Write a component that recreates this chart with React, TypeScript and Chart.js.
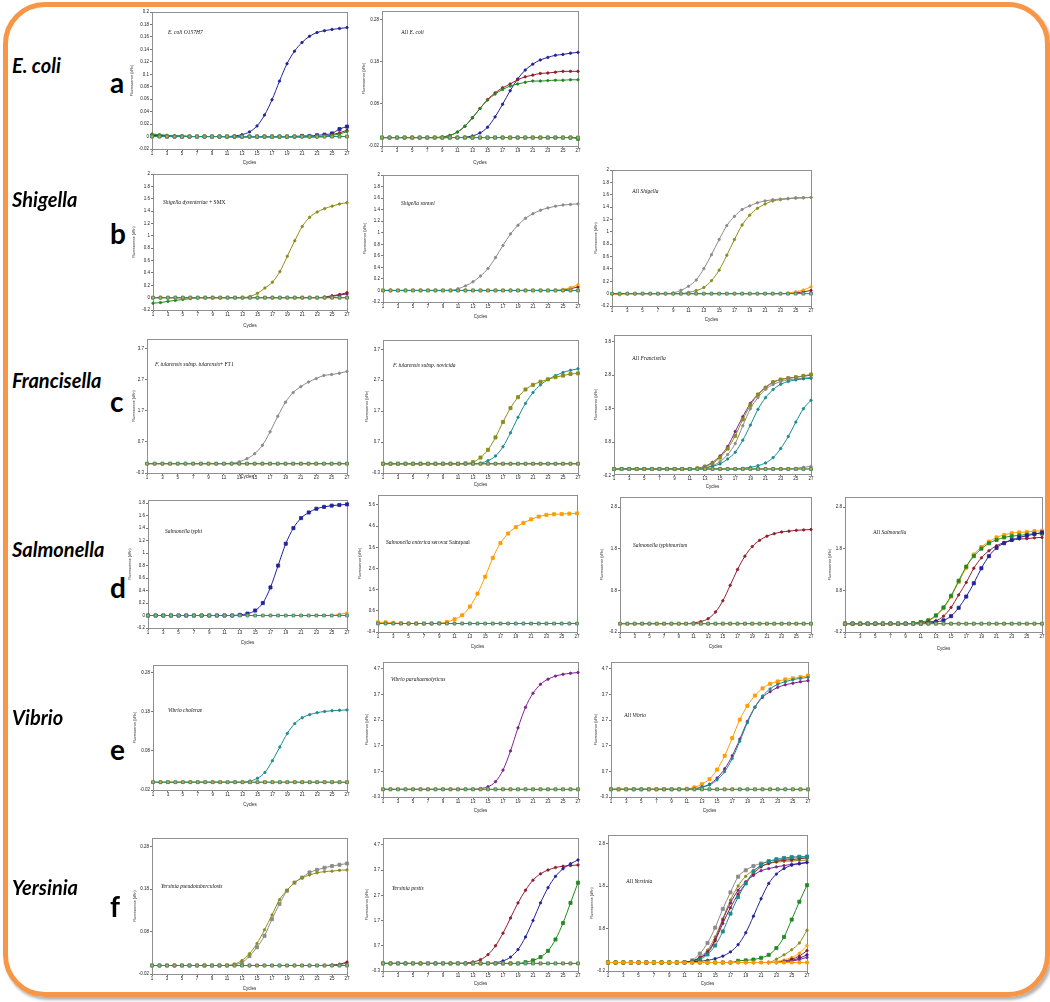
import React, { useEffect, useRef } from "react";
import { Chart, registerables } from "chart.js";
Chart.register(...registerables);

// ---------- data ----------
const cycles = [1, 2, 3, 4, 5, 6, 7, 8, 9, 10, 11, 12, 13, 14, 15, 16, 17, 18, 19, 20, 21, 22, 23, 24, 25, 26, 27];
const xTickValues = [1, 3, 5, 7, 9, 11, 13, 15, 17, 19, 21, 23, 25, 27];
const flat = [0, 0, 0, 0, 0, 0, 0, 0, 0, 0, 0, 0, 0, 0, 0, 0, 0, 0, 0, 0, 0, 0, 0, 0, 0, 0, 0];

// y tick labels
const ticksA1 = [-0.02, 0, 0.02, 0.04, 0.06, 0.08, 0.1, 0.12, 0.14, 0.16, 0.18, 0.2];
const ticksSmallWide = [-0.02, 0.08, 0.18, 0.28];
const ticksShig = [-0.2, 0, 0.2, 0.4, 0.6, 0.8, 1, 1.2, 1.4, 1.6, 1.8, 2];
const ticksFran = [-0.3, 0.7, 1.7, 2.7, 3.7];
const ticksFranAll = [-0.2, 0.8, 1.8, 2.8, 3.8];
const ticksTyphi = [-0.2, 0, 0.2, 0.4, 0.6, 0.8, 1, 1.2, 1.4, 1.6, 1.8];
const ticksSaint = [-0.4, 0.6, 1.6, 2.6, 3.6, 4.6, 5.6];
const ticksSalm = [-0.2, 0.8, 1.8, 2.8];
const ticksVib = [-0.3, 0.7, 1.7, 2.7, 3.7, 4.7];
const ticksYers = [-0.2, 0.8, 1.8, 2.8];

// a: E. coli
const a1Blue = [0.002, 0.002, 0.001, 0.001, 0.001, 0, 0, 0, 0, 0, 0, 0.001, 0.003, 0.0075, 0.017, 0.0345, 0.059, 0.089, 0.117, 0.137, 0.151, 0.161, 0.167, 0.17, 0.172, 0.1735, 0.175];
const a1Navy = [0.001, 0.001, 0, 0, 0, 0, 0, 0, 0, 0, 0, 0, 0, 0, 0, 0, 0, 0, 0, 0, 0.001, 0.001, 0.002, 0.003, 0.005, 0.012, 0.016];
const a1Red = [0, 0, 0, 0, 0, 0, 0, 0, 0, 0, 0, 0, 0, 0, 0, 0, 0, 0, 0, 0, 0, 0, 0, 0, 0.003, 0.006, 0.01];
const a1Green = [0.004, 0.003, 0.002, 0.001, 0.001, 0, 0, 0, 0, 0, -0.001, -0.001, -0.001, -0.001, -0.001, -0.001, -0.001, -0.001, -0.001, -0.001, -0.001, -0.001, -0.001, 0, 0.002, 0.004, 0.008];
const a2Blue = [0, 0, 0, 0, 0, 0, 0, 0, 0, 0, 0, 0.001, 0.004, 0.011, 0.0245, 0.049, 0.079, 0.111, 0.139, 0.16, 0.174, 0.184, 0.19, 0.195, 0.197, 0.2, 0.202];
const a2Red = [0, 0, 0, 0, 0, 0, 0, 0, 0.0015, 0.005, 0.013, 0.027, 0.047, 0.069, 0.09, 0.106, 0.118, 0.127, 0.137, 0.144, 0.148, 0.152, 0.153, 0.155, 0.157, 0.157, 0.157];
const a2Green = [0, 0, 0, 0, 0, 0, 0, 0, 0.0015, 0.005, 0.013, 0.027, 0.047, 0.069, 0.089, 0.103, 0.114, 0.122, 0.127, 0.131, 0.134, 0.134, 0.135, 0.136, 0.136, 0.137, 0.137];
const a2GreenBase = [0, 0, 0, 0, 0, 0, 0, 0, 0, 0, 0, 0, 0, 0, 0, 0, 0, 0, 0, 0, 0, 0, 0, 0, 0, 0, -0.003];

// b: Shigella
const b1Olive = [0, 0, 0, 0, 0, 0, 0, 0, 0, 0, 0, 0, 0, 0.02, 0.07, 0.156, 0.25, 0.42, 0.67, 0.92, 1.15, 1.3, 1.385, 1.44, 1.48, 1.515, 1.535];
const b1Green = [-0.09, -0.08, -0.06, -0.045, -0.03, -0.015, 0, 0, 0, 0, 0, 0, 0, 0, 0, 0, 0, 0, 0, 0, 0, 0, 0, 0, 0, 0, 0];
const b1Red = [0, 0, 0, 0, 0, 0, 0, 0, 0, 0, 0, 0, 0, 0, 0, 0, 0, 0, 0, 0, 0, 0, 0, 0.01, 0.03, 0.05, 0.08];
const b1Purple = [0, 0, 0, 0, 0, 0, 0, 0, 0, 0, 0, 0, 0, 0, 0, 0, 0, 0, 0, 0, 0, 0, 0, 0, 0.02, 0.04, 0.06];
const b2Gray = [0, 0, 0, 0, 0, 0, 0, 0, 0, 0, 0.03, 0.08, 0.15, 0.25, 0.38, 0.57, 0.78, 0.98, 1.13, 1.25, 1.33, 1.39, 1.43, 1.46, 1.48, 1.49, 1.5];
const b2Orange = [0, 0, 0, 0, 0, 0, 0, 0, 0, 0, 0, 0, 0, 0, 0, 0, 0, 0, 0, 0, 0, 0, 0, 0, 0.02, 0.05, 0.1];
const b2Red = [0, 0, 0, 0, 0, 0, 0, 0, 0, 0, 0, 0, 0, 0, 0, 0, 0, 0, 0, 0, 0, 0, 0, 0, 0.01, 0.03, 0.06];
const b3Gray = [0, 0, 0, 0, 0, 0, 0, 0, 0.01, 0.054, 0.12, 0.22, 0.405, 0.63, 0.875, 1.1, 1.25, 1.36, 1.42, 1.47, 1.5, 1.52, 1.53, 1.54, 1.55, 1.553, 1.556];
const b3Olive = [0, 0, 0, 0, 0, 0, 0, 0, 0, 0, 0.02, 0.05, 0.1, 0.21, 0.38, 0.62, 0.875, 1.11, 1.27, 1.38, 1.45, 1.5, 1.52, 1.535, 1.545, 1.55, 1.556];
const b3Orange = [0, -0.02, 0, 0, 0, 0, 0, 0, 0, 0, 0, 0, 0, 0, 0, 0, 0, 0, 0, 0, 0, 0, 0, 0.01, 0.03, 0.06, 0.11];
const b3Red = [0, 0, 0, 0, 0, 0, 0, 0, 0, 0, 0, 0, 0, 0, 0, 0, 0, 0, 0, 0, 0, 0, 0, 0, 0.01, 0.03, 0.05];

// c: Francisella
const c1Gray = [0, 0, 0, 0, 0, 0, 0, 0, 0, 0, 0, 0.01, 0.06, 0.16, 0.32, 0.59, 1.02, 1.52, 1.97, 2.28, 2.47, 2.62, 2.73, 2.83, 2.86, 2.9, 2.96];
const c2Olive = [0, 0, 0, 0, 0, 0, 0, 0, 0, 0, 0, 0.01, 0.05, 0.2, 0.45, 0.85, 1.35, 1.8, 2.15, 2.4, 2.55, 2.65, 2.73, 2.8, 2.85, 2.9, 2.92];
const c2Teal = [0, 0, 0, 0, 0, 0, 0, 0, 0, 0, 0, 0, 0, 0.02, 0.1, 0.25, 0.55, 1.0, 1.5, 1.95, 2.3, 2.55, 2.72, 2.85, 2.95, 3.02, 3.07];
const c3Purple = [0, 0, 0, 0, 0, 0, 0, 0, 0, 0, 0, 0.02, 0.08, 0.2, 0.39, 0.67, 1.12, 1.56, 1.96, 2.23, 2.44, 2.59, 2.67, 2.71, 2.74, 2.77, 2.8];
const c3Olive = [0, 0, 0, 0, 0, 0, 0, 0, 0, 0, 0, 0.02, 0.07, 0.17, 0.34, 0.61, 0.99, 1.48, 1.9, 2.22, 2.42, 2.59, 2.67, 2.71, 2.74, 2.78, 2.82];
const c3Gray = [0, 0, 0, 0, 0, 0, 0, 0, 0, 0, 0, 0, 0.04, 0.1, 0.22, 0.43, 0.76, 1.29, 1.8, 2.13, 2.38, 2.52, 2.61, 2.66, 2.69, 2.71, 2.73];
const c3Teal1 = [0, 0, 0, 0, 0, 0, 0, 0, 0, 0, 0, 0, 0.03, 0.08, 0.15, 0.3, 0.5, 0.86, 1.31, 1.78, 2.13, 2.37, 2.53, 2.61, 2.66, 2.69, 2.71];
const c3Teal2 = [0, 0, 0, 0, 0, 0, 0, 0, 0, 0, 0, 0, 0, 0, 0, 0, 0, 0.02, 0.05, 0.1, 0.18, 0.34, 0.61, 0.97, 1.4, 1.8, 2.05];
const c3GrayEnd = [0, 0, 0, 0, 0, 0, 0, 0, 0, 0, 0, 0, 0, 0, 0, 0, 0, 0, 0, 0, 0, 0, 0, 0, 0.02, 0.05, 0.08];

// d: Salmonella
const d1Blue = [0, 0, 0, 0, 0, 0, 0, 0, 0, 0, 0, 0, 0.01, 0.03, 0.08, 0.2, 0.45, 0.8, 1.15, 1.4, 1.56, 1.65, 1.71, 1.74, 1.76, 1.77, 1.78];
const d1Orange = [0, 0, 0, 0, 0, 0, 0, 0, 0, 0, 0, 0, 0, 0, 0, 0, 0, 0, 0, 0, 0, 0, 0, 0, 0, 0.02, 0.04];
const d2Orange = [0.057, 0.057, 0.03, 0.01, 0, 0, 0, 0, 0.02, 0.07, 0.2, 0.39, 0.8, 1.41, 2.21, 3.1, 3.8, 4.25, 4.55, 4.75, 4.92, 5.05, 5.13, 5.16, 5.17, 5.19, 5.2];
const d3Red = [0, 0, 0, 0, 0, 0, 0, 0, 0, 0, 0.02, 0.05, 0.12, 0.28, 0.55, 0.92, 1.3, 1.62, 1.85, 2.0, 2.1, 2.16, 2.2, 2.22, 2.24, 2.25, 2.26];
const d4Green = [0, 0, 0, 0, 0, 0, 0, 0, 0, 0.01, 0.04, 0.08, 0.2, 0.39, 0.67, 1.03, 1.37, 1.62, 1.8, 1.93, 2.01, 2.07, 2.1, 2.12, 2.14, 2.16, 2.16];
const d4Orange = [0, 0, 0, 0, 0, 0, 0, 0, 0, 0.01, 0.03, 0.07, 0.18, 0.37, 0.65, 1.0, 1.34, 1.66, 1.84, 1.97, 2.07, 2.13, 2.17, 2.19, 2.2, 2.22, 2.23];
const d4Red = [0, 0, 0, 0, 0, 0, 0, 0, 0, 0, 0.01, 0.04, 0.07, 0.18, 0.39, 0.69, 0.99, 1.33, 1.58, 1.75, 1.87, 1.95, 2.0, 2.03, 2.04, 2.06, 2.07];
const d4Blue = [0, 0, 0, 0, 0, 0, 0, 0, 0, 0, 0, 0.01, 0.04, 0.08, 0.18, 0.38, 0.65, 0.97, 1.33, 1.62, 1.82, 1.93, 2.01, 2.07, 2.11, 2.15, 2.19];

// e: Vibrio
const e1Teal = [0, 0, 0, 0, 0, 0, 0, 0, 0, 0, 0, 0, 0, 0.003, 0.01, 0.025, 0.055, 0.09, 0.125, 0.15, 0.165, 0.173, 0.178, 0.181, 0.183, 0.184, 0.185];
const e2Purple = [0, 0, 0, 0, 0, 0, 0, 0, 0, 0, 0, 0, 0, 0.03, 0.1, 0.3, 0.75, 1.5, 2.4, 3.2, 3.75, 4.1, 4.3, 4.42, 4.49, 4.53, 4.56];
const e3Orange = [0, 0, 0, 0, 0, 0, 0, 0, 0, 0, 0.02, 0.075, 0.2, 0.4, 0.77, 1.31, 2.0, 2.72, 3.26, 3.66, 3.94, 4.12, 4.21, 4.29, 4.33, 4.38, 4.44];
const e3Purple = [0, 0, 0, 0, 0, 0, 0, 0, 0, 0, 0, 0.02, 0.09, 0.2, 0.44, 0.8, 1.31, 1.96, 2.65, 3.21, 3.59, 3.81, 3.98, 4.08, 4.14, 4.2, 4.24];
const e3Teal = [0, 0, 0, 0, 0, 0, 0, 0, 0, 0, 0, 0.02, 0.075, 0.17, 0.37, 0.69, 1.2, 1.88, 2.6, 3.2, 3.64, 3.92, 4.1, 4.2, 4.28, 4.33, 4.37];

// f: Yersinia
const f1Gray = [0, 0, 0, 0, 0, 0, 0, 0, 0, 0, 0, 0.002, 0.007, 0.022, 0.043, 0.07, 0.109, 0.145, 0.176, 0.195, 0.207, 0.219, 0.225, 0.23, 0.234, 0.237, 0.24];
const f1Olive = [0, 0, 0, 0, 0, 0, 0, 0, 0, 0, 0, 0.003, 0.012, 0.028, 0.052, 0.084, 0.119, 0.155, 0.177, 0.195, 0.206, 0.213, 0.218, 0.221, 0.222, 0.224, 0.225];
const f1Red = [0, 0, 0, 0, 0, 0, 0, 0, 0, 0, 0, 0, 0, 0, 0, 0, 0, 0, 0, 0, 0, 0, 0, 0, 0.001, 0.003, 0.008];
const f1Teal = [0, 0, 0, 0, 0, 0, 0, 0, 0, 0, 0, 0, 0, 0, 0, 0, 0, 0, 0, 0, 0, 0, 0, 0, 0.001, 0.002, 0.006];
const f2Red = [0, 0, 0, 0, 0, 0, 0, 0, 0, 0, 0, 0.02, 0.06, 0.15, 0.35, 0.7, 1.2, 1.8, 2.4, 2.9, 3.3, 3.55, 3.7, 3.8, 3.85, 3.88, 3.9];
const f2Blue = [0, 0, 0, 0, 0, 0, 0, 0, 0, 0, 0, 0, 0, 0, 0, 0.03, 0.1, 0.25, 0.55, 1.05, 1.7, 2.4, 3.0, 3.45, 3.75, 3.95, 4.1];
const f2Green = [0, 0, 0, 0, 0, 0, 0, 0, 0, 0, 0, 0, 0, 0, 0, 0, 0, 0, 0, 0.05, 0.12, 0.25, 0.5, 0.95, 1.6, 2.4, 3.2];
const f3Gray = [0, 0, 0, 0, 0, 0, 0, 0, 0, 0, 0.01, 0.05, 0.21, 0.46, 0.82, 1.26, 1.65, 2.02, 2.17, 2.27, 2.33, 2.38, 2.41, 2.43, 2.46, 2.47, 2.49];
const f3Olive = [0, 0, 0, 0, 0, 0, 0, 0, 0, 0, 0, 0.03, 0.13, 0.29, 0.6, 1.03, 1.47, 1.8, 2.03, 2.17, 2.27, 2.33, 2.36, 2.38, 2.39, 2.4, 2.41];
const f3Purple = [0, 0, 0, 0, 0, 0, 0, 0, 0, 0, 0, 0.03, 0.11, 0.25, 0.54, 1.0, 1.4, 1.7, 1.9, 2.05, 2.16, 2.21, 2.25, 2.28, 2.31, 2.32, 2.35];
const f3Red = [0, 0, 0, 0, 0, 0, 0, 0, 0, 0, 0, 0.03, 0.11, 0.22, 0.51, 0.92, 1.29, 1.61, 1.86, 2.09, 2.25, 2.33, 2.38, 2.41, 2.42, 2.44, 2.46];
const f3Teal = [0, 0, 0, 0, 0, 0, 0, 0, 0, 0, 0, 0.02, 0.07, 0.19, 0.4, 0.73, 1.15, 1.54, 1.86, 2.13, 2.3, 2.38, 2.43, 2.46, 2.48, 2.49, 2.49];
const f3Blue = [0, 0, 0, 0, 0, 0, 0, 0, 0, 0, 0.01, 0.02, 0.03, 0.05, 0.09, 0.15, 0.25, 0.42, 0.7, 1.09, 1.5, 1.86, 2.08, 2.21, 2.29, 2.33, 2.36];
const f3Green = [0, 0, 0, 0, 0, 0, 0, 0, 0, 0, 0, 0, 0, 0, 0, 0, 0, 0.04, 0.05, 0.07, 0.11, 0.18, 0.34, 0.6, 1.01, 1.43, 1.82];
const f3OliveLate = [0, 0, 0, 0, 0, 0, 0, 0, 0, 0, 0, 0, 0, 0, 0, 0, 0, 0, 0, 0, 0, 0, 0.08, 0.18, 0.3, 0.46, 0.76];
const f3OrangeLate = [0, 0, 0, 0, 0, 0, 0, 0, 0, 0, 0, 0, 0, 0, 0, 0, 0, 0, 0, 0, 0, 0, 0.02, 0.06, 0.12, 0.22, 0.4];
const f3RedLate = [0, 0, 0, 0, 0, 0, 0, 0, 0, 0, 0, 0, 0, 0, 0, 0, 0, 0, 0, 0, 0, 0, 0, 0.03, 0.08, 0.15, 0.28];
const f3BlueLate = [0, 0, 0, 0, 0, 0, 0, 0, 0, 0, 0, 0, 0, 0, 0, 0, 0, 0, 0, 0, 0, 0, 0, 0.02, 0.05, 0.1, 0.18];
const f3PurpleLate = [0, 0, 0, 0, 0, 0, 0, 0, 0, 0, 0, 0, 0, 0, 0, 0, 0, 0, 0, 0, 0, 0, 0, 0, 0.03, 0.07, 0.12];

// ---------- styles ----------
const COL = {
  blue: "#22229a",
  red: "#921c2c",
  green: "#1f8a1f",
  orange: "#ff9c00",
  teal: "#1b8c8c",
  olive: "#8c8c18",
  gray: "#8a8a8a",
  purple: "#7c2290",
};

type Ser = { data: number[]; color: string; shape: string; r: number; fill?: string };
const dot = (data: number[], color: string): Ser => ({ data, color, shape: "circle", r: 1.2 });
const sq = (data: number[], color: string): Ser => ({ data, color, shape: "rect", r: 2.2 });
const baseTeal = (): Ser => ({ data: flat, color: COL.teal, shape: "rect", r: 2, fill: "#f2a320" });
const baseOrange = (): Ser => ({ data: flat, color: COL.orange, shape: "rect", r: 2 });

type PanelDef = {
  box: [number, number, number, number];
  yMin: number;
  yMax: number;
  yTicks: number[];
  wy: number;
  hx: number;
  series: Ser[];
};

const panels: PanelDef[] = [
  // row a
  { box: [152, 12, 347, 149], yMin: -0.02, yMax: 0.2, yTicks: ticksA1, wy: 22, hx: 16,
    series: [baseTeal(), baseOrange(), dot(a1Green, COL.green), dot(a1Red, COL.red), sq(a1Navy, COL.blue), dot(a1Blue, COL.blue)] },
  { box: [382, 11, 578, 146], yMin: -0.02, yMax: 0.3, yTicks: ticksSmallWide, wy: 20, hx: 19,
    series: [baseTeal(), baseOrange(), sq(a2GreenBase, COL.green), dot(a2Green, COL.green), dot(a2Red, COL.red), dot(a2Blue, COL.blue)] },
  // row b
  { box: [153, 174, 347, 310], yMin: -0.2, yMax: 2, yTicks: ticksShig, wy: 21, hx: 18,
    series: [baseTeal(), baseOrange(), dot(b1Green, COL.green), dot(b1Red, COL.red), dot(b1Purple, COL.purple), dot(b1Olive, COL.olive)] },
  { box: [383, 175, 578, 302], yMin: -0.2, yMax: 2, yTicks: ticksShig, wy: 20, hx: 17,
    series: [baseTeal(), baseOrange(), dot(b2Orange, COL.orange), dot(b2Red, COL.red), dot(b2Gray, COL.gray)] },
  { box: [612, 170, 811, 306], yMin: -0.2, yMax: 2, yTicks: ticksShig, wy: 18, hx: 16,
    series: [baseTeal(), dot(b3Orange, COL.orange), dot(b3Red, COL.red), dot(b3Gray, COL.gray), dot(b3Olive, COL.olive)] },
  // row c
  { box: [147, 339, 347, 473], yMin: -0.3, yMax: 4.0, yTicks: ticksFran, wy: 15, hx: 6,
    series: [baseTeal(), baseOrange(), dot(flat, COL.red), dot(c1Gray, COL.gray)] },
  { box: [383, 340, 578, 473], yMin: -0.3, yMax: 4.0, yTicks: ticksFran, wy: 18, hx: 14,
    series: [baseTeal(), baseOrange(), dot(flat, COL.red), sq(c2Olive, COL.olive), dot(c2Teal, COL.teal)] },
  { box: [614, 335, 811, 474], yMin: -0.15, yMax: 4.0, yTicks: ticksFranAll, wy: 20, hx: 15,
    series: [baseTeal(), baseOrange(), dot(c3GrayEnd, COL.gray), dot(c3Teal2, COL.teal), dot(c3Teal1, COL.teal), dot(c3Gray, COL.gray), sq(c3Olive, COL.olive), dot(c3Purple, COL.purple)] },
  // row d
  { box: [148, 500, 347, 628], yMin: -0.2, yMax: 1.85, yTicks: ticksTyphi, wy: 20, hx: 17,
    series: [baseTeal(), dot(d1Orange, COL.orange), sq(d1Blue, COL.blue)] },
  { box: [378, 495, 577, 632], yMin: -0.4, yMax: 6.07, yTicks: ticksSaint, wy: 20, hx: 17,
    series: [baseTeal(), dot(flat, COL.red), sq(d2Orange, COL.orange)] },
  { box: [620, 497, 811, 632], yMin: -0.2, yMax: 3.04, yTicks: ticksSalm, wy: 20, hx: 17,
    series: [baseTeal(), baseOrange(), dot(d3Red, COL.red)] },
  { box: [845, 497, 1042, 632], yMin: -0.2, yMax: 3.04, yTicks: ticksSalm, wy: 17, hx: 19,
    series: [baseTeal(), baseOrange(), sq(d4Blue, COL.blue), dot(d4Red, COL.red), sq(d4Green, COL.green), sq(d4Orange, COL.orange)] },
  // row e
  { box: [153, 665, 347, 790], yMin: -0.02, yMax: 0.3, yTicks: ticksSmallWide, wy: 20, hx: 17,
    series: [baseTeal(), baseOrange(), dot(e1Teal, COL.teal)] },
  { box: [383, 662, 578, 797], yMin: -0.3, yMax: 4.97, yTicks: ticksVib, wy: 18, hx: 16,
    series: [baseTeal(), baseOrange(), dot(e2Purple, COL.purple)] },
  { box: [611, 662, 808, 797], yMin: -0.3, yMax: 4.97, yTicks: ticksVib, wy: 17, hx: 16,
    series: [baseTeal(), baseOrange(), dot(e3Teal, COL.teal), dot(e3Purple, COL.purple), sq(e3Orange, COL.orange)] },
  // row f
  { box: [152, 838, 347, 974], yMin: -0.02, yMax: 0.3, yTicks: ticksSmallWide, wy: 19, hx: 17,
    series: [baseTeal(), baseOrange(), dot(f1Red, COL.red), dot(f1Teal, COL.teal), dot(f1Olive, COL.olive), sq(f1Gray, COL.gray)] },
  { box: [383, 838, 578, 971], yMin: -0.3, yMax: 4.97, yTicks: ticksVib, wy: 18, hx: 15,
    series: [baseTeal(), baseOrange(), sq(f2Green, COL.green), dot(f2Blue, COL.blue), dot(f2Red, COL.red)] },
  { box: [608, 835, 807, 971], yMin: -0.2, yMax: 3.0, yTicks: ticksYers, wy: 18, hx: 15,
    series: [baseOrange(), dot(f3PurpleLate, COL.purple), dot(f3BlueLate, COL.blue), dot(f3RedLate, COL.red), dot(f3OrangeLate, COL.orange), dot(f3OliveLate, COL.olive),
      sq(f3Green, COL.green), dot(f3Blue, COL.blue), sq(f3Teal, COL.teal), dot(f3Red, COL.red), dot(f3Purple, COL.purple), dot(f3Olive, COL.olive), sq(f3Gray, COL.gray)] },
];

const panelTitles: { text: React.ReactNode; x: number; y: number }[] = [
  { text: <i>E. coli O157H7</i>, x: 168, y: 32 },
  { text: <>All <i>E. coli</i></>, x: 401, y: 32 },
  { text: <><i>Shigella dysenteriae</i> + SMX</>, x: 163, y: 202 },
  { text: <i>Shigella sonnei</i>, x: 401, y: 203 },
  { text: <>All <i>Shigella</i></>, x: 632, y: 191 },
  { text: <><i>F. tularensis subsp. tularensis</i>+ FT1</>, x: 155, y: 364 },
  { text: <i>F. tularensis subsp. novicida</i>, x: 393, y: 365 },
  { text: <>All <i>Francisella</i></>, x: 632, y: 358 },
  { text: <i>Salmonella typhi</i>, x: 165, y: 531 },
  { text: <><i>Salmonella enterica</i> serovar Saintpaul</>, x: 386, y: 542 },
  { text: <i>Salmonella typhimurium</i>, x: 633, y: 545 },
  { text: <>All <i>Salmonella</i></>, x: 873, y: 532 },
  { text: <i>Vibrio cholerae</i>, x: 168, y: 710 },
  { text: <i>Vibrio parahaemolyticus</i>, x: 391, y: 679 },
  { text: <>All <i>Vibrio</i></>, x: 624, y: 715 },
  { text: <i>Yersinia pseudotuberculosis</i>, x: 161, y: 886 },
  { text: <i>Yersinia pestis</i>, x: 392, y: 888 },
  { text: <>All <i>Yersinia</i></>, x: 626, y: 881 },
];

const rowLabels = [
  { name: "E. coli", letter: "a", y: 66, ly: 85 },
  { name: "Shigella", letter: "b", y: 200, ly: 236 },
  { name: "Francisella", letter: "c", y: 381, ly: 404 },
  { name: "Salmonella", letter: "d", y: 550, ly: 590 },
  { name: "Vibrio", letter: "e", y: 718, ly: 752 },
  { name: "Yersinia", letter: "f", y: 888, ly: 909 },
];

const PAD_T = 6;
const PAD_R = 8;

const framePlugin = {
  id: "frame",
  beforeDatasetsDraw(chart: any) {
    const { ctx, chartArea } = chart;
    ctx.save();
    ctx.strokeStyle = "#8f8f8f";
    ctx.lineWidth = 1;
    ctx.strokeRect(Math.round(chartArea.left) + 0.5, Math.round(chartArea.top) + 0.5, Math.round(chartArea.right - chartArea.left), Math.round(chartArea.bottom - chartArea.top));
    ctx.restore();
  },
};

const fmt = (v: number) => String(Number(Number(v).toFixed(3)));

function PanelChart({ p }: { p: PanelDef }) {
  const ref = useRef<HTMLCanvasElement>(null);
  const [l, t, r, b] = p.box;
  const W = p.wy + (r - l) + PAD_R;
  const H = PAD_T + (b - t) + p.hx;
  useEffect(() => {
    const chart = new Chart(ref.current as HTMLCanvasElement, {
      type: "line",
      data: {
        datasets: p.series.map((s) => ({
          data: s.data.map((y, i) => ({ x: cycles[i], y })),
          borderColor: s.color,
          backgroundColor: s.fill ?? s.color,
          pointBackgroundColor: s.fill ?? s.color,
          pointBorderColor: s.color,
          pointStyle: s.shape as any,
          pointRadius: s.r,
          pointBorderWidth: 0.8,
          borderWidth: 1,
          cubicInterpolationMode: "monotone" as const,
          fill: false,
          clip: false as any,
        })),
      },
      options: {
        animation: false,
        responsive: false,
        maintainAspectRatio: false,
        devicePixelRatio: 1,
        events: [],
        layout: { padding: { left: 0, top: PAD_T, right: PAD_R, bottom: 0 } },
        plugins: { legend: { display: false }, tooltip: { enabled: false } },
        scales: {
          x: {
            type: "linear",
            min: 1,
            max: 27,
            afterBuildTicks: (axis: any) => {
              axis.ticks = xTickValues.map((v) => ({ value: v }));
            },
            afterFit: (axis: any) => {
              axis.height = p.hx;
            },
            ticks: {
              autoSkip: false,
              maxRotation: 0,
              padding: 0,
              color: "#222",
              font: { size: 4.5, family: "Liberation Sans" },
              callback: (v: any) => String(v),
            },
            grid: { display: true, drawOnChartArea: false, drawTicks: true, tickLength: 2, color: "#777" },
            border: { display: false },
            title: { display: true, text: "Cycles", color: "#222", padding: 0, font: { size: 4.5, family: "Liberation Sans" } },
          },
          y: {
            type: "linear",
            min: p.yMin,
            max: p.yMax,
            afterBuildTicks: (axis: any) => {
              axis.ticks = p.yTicks.map((v) => ({ value: v }));
            },
            afterFit: (axis: any) => {
              axis.width = p.wy;
            },
            ticks: {
              autoSkip: false,
              padding: 1,
              color: "#222",
              font: { size: 4.5, family: "Liberation Sans" },
              callback: (v: any) => fmt(v),
            },
            grid: { display: true, drawOnChartArea: false, drawTicks: true, tickLength: 2, color: "#777" },
            border: { display: false },
            title: { display: true, text: "Fluorescence (dRn)", color: "#222", padding: 0, font: { size: 3.6, family: "Liberation Sans" } },
          },
        },
      },
      plugins: [framePlugin],
    } as any);
    return () => chart.destroy();
  }, [p]);
  return (
    <canvas
      ref={ref}
      width={W}
      height={H}
      style={{ position: "absolute", left: l - p.wy, top: t - PAD_T, width: W, height: H }}
    />
  );
}

export default function App() {
  return (
    <div style={{ position: "absolute", left: 0, top: 0, width: 1050, height: 1002, background: "#fff", overflow: "hidden" }}>
      <div
        style={{
          position: "absolute",
          left: 3,
          top: 2,
          width: 1047,
          height: 995,
          boxSizing: "border-box",
          border: "5px solid #f79646",
          borderRadius: 42,
          boxShadow: "2px 3px 3px rgba(0,0,0,0.3)",
        }}
      />
      {panels.map((p, i) => (
        <PanelChart key={i} p={p} />
      ))}
      {panelTitles.map((t, i) => (
        <div
          key={"t" + i}
          style={{
            position: "absolute",
            left: t.x,
            top: t.y - 4,
            fontFamily: "'Liberation Serif', serif",
            fontSize: 5.5,
            lineHeight: "8px",
            whiteSpace: "nowrap",
            color: "#111",
          }}
        >
          {t.text}
        </div>
      ))}
      {rowLabels.map((r, i) => (
        <React.Fragment key={"r" + i}>
          <div
            style={{
              position: "absolute",
              left: 12,
              top: r.y - 11,
              fontFamily: "Lato, 'Open Sans', sans-serif",
              fontWeight: 700,
              fontStyle: "italic",
              fontSize: 20,
              lineHeight: "20px",
              whiteSpace: "nowrap",
              color: "#000",
            }}
          >
            {r.name}
          </div>
          <div
            style={{
              position: "absolute",
              left: 110,
              top: r.ly - 17,
              fontFamily: "Lato, 'Open Sans', sans-serif",
              fontWeight: 700,
              fontSize: 28,
              lineHeight: "28px",
              color: "#000",
            }}
          >
            {r.letter}
          </div>
        </React.Fragment>
      ))}
    </div>
  );
}
